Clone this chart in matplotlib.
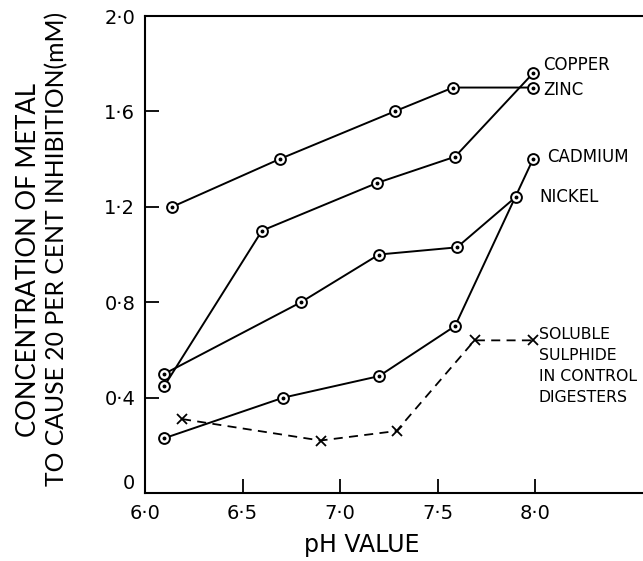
import matplotlib
matplotlib.use("Agg")
import matplotlib.pyplot as plt
from matplotlib.ticker import FixedLocator, FixedFormatter

# Data (pH, concentration mM)
zinc_ph = [6.14, 6.69, 7.28, 7.58, 7.99]
zinc_c = [1.20, 1.40, 1.60, 1.70, 1.70]

copper_ph = [6.10, 6.60, 7.19, 7.59, 7.99]
copper_c = [0.45, 1.10, 1.30, 1.41, 1.76]

nickel_ph = [6.10, 6.80, 7.20, 7.60, 7.90]
nickel_c = [0.50, 0.80, 1.00, 1.03, 1.24]

cadmium_ph = [6.10, 6.71, 7.20, 7.59, 7.99]
cadmium_c = [0.23, 0.40, 0.49, 0.70, 1.40]

sulphide_ph = [6.19, 6.90, 7.29, 7.69, 7.99]
sulphide_c = [0.31, 0.22, 0.26, 0.64, 0.64]

x_ticks = [6.0, 6.5, 7.0, 7.5, 8.0]
x_tick_labels = ["6\u00b70", "6\u00b75", "7\u00b70", "7\u00b75", "8\u00b70"]
y_ticks = [0, 0.4, 0.8, 1.2, 1.6, 2.0]
y_tick_labels = ["0", "0\u00b74", "0\u00b78", "1\u00b72", "1\u00b76", "2\u00b70"]

series_labels = ["COPPER", "ZINC", "CADMIUM", "NICKEL"]
series_label_pos = [(8.04, 1.795), (8.04, 1.69), (8.06, 1.41), (8.02, 1.24)]
sulphide_label = ["SOLUBLE", "SULPHIDE", "IN CONTROL", "DIGESTERS"]

plt.rcParams["font.family"] = ["DejaVu Sans"]
LAB = ["Lato", "DejaVu Sans"]

W, H = 643, 561
fig = plt.figure(figsize=(W / 100, H / 100), dpi=100)
left_px, bottom_px, top_px = 145, 493, 16
ax = fig.add_axes([left_px / W, 1 - bottom_px / H, (W - left_px) / W, (bottom_px - top_px) / H])
ax.set_xlim(6.0, 6.0 + (W - left_px) / 195.0)
ax.set_ylim(0, 2.0)

lw = 1.4
ms = 7.8


def circ_series(xs, ys):
    ax.plot(xs, ys, color="black", lw=lw, zorder=2)
    ax.plot(xs, ys, ls="none", marker="o", ms=ms, mfc="white", mec="black", mew=1.4, zorder=3)
    ax.plot(xs, ys, ls="none", marker="o", ms=1.8, mfc="black", mec="black", zorder=4)


circ_series(zinc_ph, zinc_c)
circ_series(copper_ph, copper_c)
circ_series(nickel_ph, nickel_c)
circ_series(cadmium_ph, cadmium_c)

ax.plot(sulphide_ph, sulphide_c, color="black", lw=1.3, ls=(0, (5, 3.5)), marker="x", ms=7, mew=1.3, zorder=2)

for name, (px, py) in zip(series_labels, series_label_pos):
    ax.text(px, py, name, fontsize=12, va="center", ha="left")

for i, t in enumerate(sulphide_label):
    ax.text(8.02, 0.665 - i * 0.088, t, fontsize=11.3, va="center", ha="left")

ax.xaxis.set_major_locator(FixedLocator(x_ticks))
ax.xaxis.set_major_formatter(FixedFormatter(x_tick_labels))
ax.yaxis.set_major_locator(FixedLocator(y_ticks))
ax.yaxis.set_major_formatter(FixedFormatter(y_tick_labels))
ax.tick_params(axis="both", direction="in", length=10, width=1.3, labelsize=14, pad=7)
ax.tick_params(axis="x", pad=8)
for lab in ax.get_yticklabels():
    if lab.get_text() == "0":
        lab.set_va("bottom")
        lab.set_y(0.012)

for s in ["left", "bottom", "top"]:
    ax.spines[s].set_linewidth(1.5)
ax.spines["right"].set_visible(False)

fig.text(362 / W, 1 - 545 / H, "pH VALUE", fontsize=17, ha="center", va="center")
fig.text(29 / W, 1 - 260 / H, "CONCENTRATION OF METAL", fontsize=18.5, rotation=90,
         ha="center", va="center", family=LAB)
fig.text(57 / W, 1 - 249 / H, "TO CAUSE 20 PER CENT INHIBITION(mM)", fontsize=17.8, rotation=90,
         ha="center", va="center", family=LAB)

fig.savefig("out.png", dpi=100)
